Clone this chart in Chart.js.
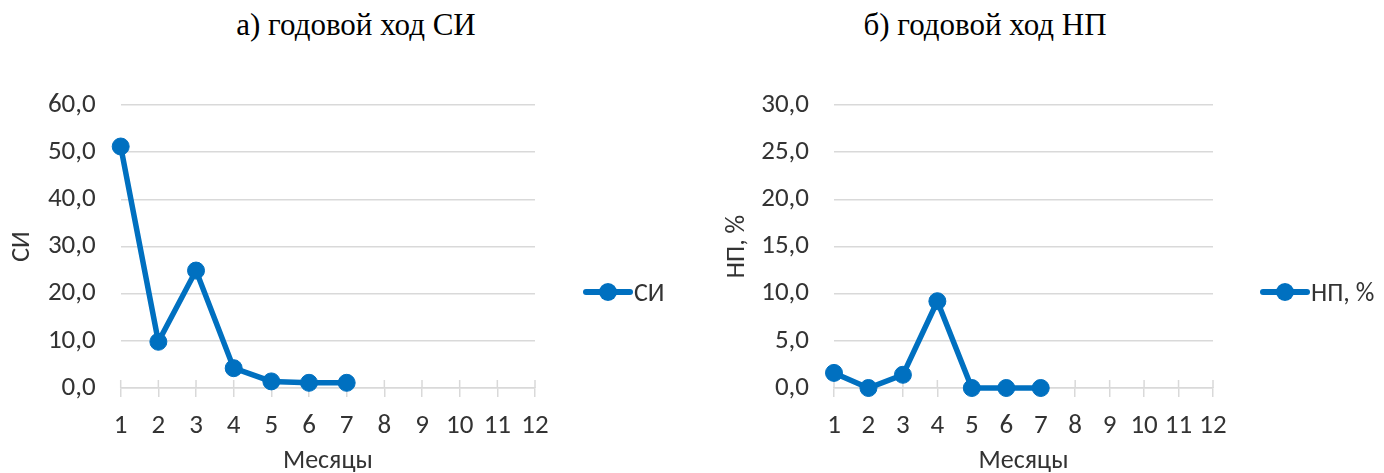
<!DOCTYPE html>
<html>
<head>
<meta charset="utf-8">
<script src="https://cdn.jsdelivr.net/npm/chart.js@4.4.1/dist/chart.umd.min.js"></script>
<style>
  html, body { margin: 0; padding: 0; background: #fff; }
  body { width: 1384px; height: 473px; position: relative; overflow: hidden; }
  .box { position: absolute; top: 0; width: 692px; height: 473px; }
  .title { position: absolute; top: 7px; font-family: "Liberation Serif", "Times New Roman", serif;
           font-size: 31px; color: #000; white-space: nowrap; transform: translateX(-50%); }
  .legend { position: absolute; display: flex; align-items: center; font-family: Carlito, "Open Sans", sans-serif;
            font-size: 26px; color: #333; transform: translateY(-50%); }
  .legend .mark { position: relative; width: 50px; height: 18px; margin-right: 1px; }
  .legend .mark .ln { position: absolute; left: 0; right: 0; top: 6px; height: 6px; background: #0070C0; border-radius: 3px; }
  .legend .mark .dot { position: absolute; left: 16px; top: 0; width: 18px; height: 18px; border-radius: 50%; background: #0070C0; }
</style>
</head>
<body>
<div class="title" style="left:356px">а) годовой ход СИ</div>
<div class="title" style="left:985px">б) годовой ход НП</div>

<div class="box" style="left:0"><canvas id="siChart"></canvas></div>
<div class="box" style="left:692px"><canvas id="npChart"></canvas></div>

<div class="legend" id="siLegend" style="left:583px; top:292px"></div>
<div class="legend" id="npLegend" style="left:1260px; top:292px"></div>

<script>
// months 1..12
var months = ['1', '2', '3', '4', '5', '6', '7', '8', '9', '10', '11', '12'];

// СИ by month (only 7 months observed)
var siValues = [51.2, 9.8, 24.9, 4.2, 1.4, 1.1, 1.1, null, null, null, null, null];
// НП, % by month
var npValues = [1.6, 0.0, 1.4, 9.2, 0.0, 0.0, 0.0, null, null, null, null, null];

var siTicks = [0, 10, 20, 30, 40, 50, 60];
var npTicks = [0, 5, 10, 15, 20, 25, 30];

var BLUE = '#0070C0';
var GRID = '#d9d9d9';
var TEXT = '#333333';
var FONT = 'Carlito, "Open Sans", sans-serif';

// Excel style "cross" tick marks: the part above the axis line
var crossTicks = {
    id: 'crossTicks',
    beforeDatasetsDraw: function (chart) {
        var x = chart.scales.x;
        var ctx = chart.ctx;
        var bottom = chart.chartArea.bottom;
        ctx.save();
        ctx.strokeStyle = GRID;
        ctx.lineWidth = 1.5;
        ctx.beginPath();
        for (var i = 0; i < x.ticks.length; i++) {
            var px = x.getPixelForTick(i);
            ctx.moveTo(px, bottom - 8);
            ctx.lineTo(px, bottom);
        }
        ctx.stroke();
        ctx.restore();
    }
};

function fmt(v) {
    return v.toFixed(1).replace('.', ',');
}

function makeChart(id, label, values, ticks, yTitle, yWidth, yTitlePad, rightPad) {
    var ctx = document.getElementById(id).getContext('2d');
    return new Chart(ctx, {
        type: 'line',
        data: {
            labels: months,
            datasets: [{
                label: label,
                data: values,
                borderColor: BLUE,
                backgroundColor: BLUE,
                borderWidth: 5.5,
                pointRadius: 8.5,
                pointHoverRadius: 8.5,
                pointBorderWidth: 1,
                pointBackgroundColor: BLUE,
                tension: 0,
                fill: false,
                clip: false
            }]
        },
        options: {
            responsive: true,
            maintainAspectRatio: false,
            animation: false,
            layout: {
                padding: { top: 105, right: rightPad, bottom: 0, left: 0 }
            },
            plugins: {
                legend: { display: false },
                tooltip: { enabled: false }
            },
            scales: {
                x: {
                    offset: false,
                    afterFit: function (s) { s.height = 85; },
                    grid: {
                        drawOnChartArea: false,
                        drawTicks: true,
                        tickLength: 9,
                        color: GRID,
                        lineWidth: 1.5
                    },
                    border: { display: true, color: GRID, width: 1.5 },
                    ticks: {
                        padding: 13,
                        color: TEXT,
                        font: { family: FONT, size: 27 },
                        maxRotation: 0,
                        autoSkip: false
                    },
                    title: {
                        display: true,
                        text: 'Месяцы',
                        color: TEXT,
                        font: { family: FONT, size: 26, lineHeight: 1 },
                        padding: { top: 0, bottom: -1 }
                    }
                },
                y: {
                    min: ticks[0],
                    max: ticks[ticks.length - 1],
                    afterFit: function (s) { s.width = yWidth; },
                    afterBuildTicks: function (s) {
                        s.ticks = ticks.map(function (v) { return { value: v }; });
                    },
                    grid: {
                        drawTicks: false,
                        color: GRID,
                        lineWidth: 1.5
                    },
                    border: { display: false },
                    ticks: {
                        padding: 25,
                        color: TEXT,
                        font: { family: FONT, size: 27 },
                        callback: function (v) { return fmt(v); }
                    },
                    title: {
                        display: true,
                        text: yTitle,
                        color: TEXT,
                        font: { family: FONT, size: 26, lineHeight: 1 },
                        padding: { top: yTitlePad, bottom: 0 }
                    }
                }
            }
        },
        plugins: [crossTicks]
    });
}

var siChart = makeChart('siChart', 'СИ', siValues, siTicks, 'СИ', 120.7, 9, 157);
var npChart = makeChart('npChart', 'НП, %', npValues, npTicks, 'НП, %', 142, 32, 171);

// legend next to each plot, text taken from the dataset
function buildLegend(elId, chart) {
    var el = document.getElementById(elId);
    el.innerHTML = '<span class="mark"><span class="ln"></span><span class="dot"></span></span>' +
        '<span>' + chart.data.datasets[0].label + '</span>';
}
buildLegend('siLegend', siChart);
buildLegend('npLegend', npChart);
</script>
</body>
</html>
